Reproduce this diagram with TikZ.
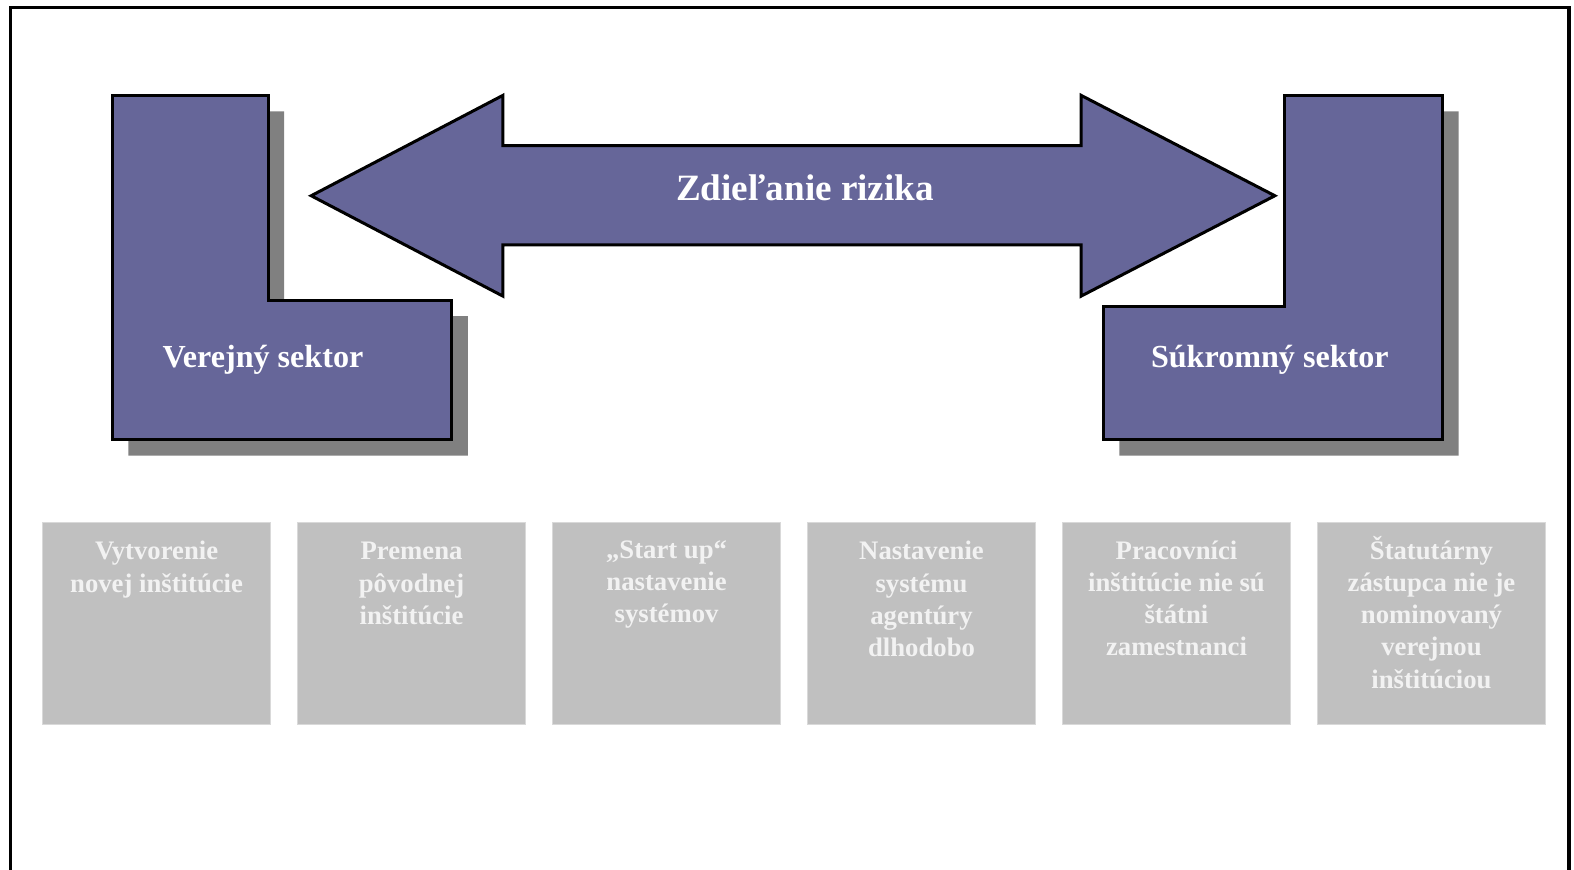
\documentclass[tikz,border=0pt]{standalone}
\usepackage{fontspec}
\setmainfont{Liberation Serif}
\usepackage{xcolor}

\definecolor{sektorfill}{RGB}{102,102,153}
\definecolor{tien}{RGB}{128,128,128}
\definecolor{boxfill}{RGB}{192,192,192}
\definecolor{boxtext}{RGB}{242,242,242}

\tikzset{
  shape outline/.style={draw=black, line width=1.5pt, line join=miter, fill=sektorfill},
  shadow shape/.style={draw opacity=0, fill=tien},
  sektortext/.style={text=white, font=\bfseries\fontsize{16}{19}\selectfont, inner sep=0pt},
  infobox/.style={draw=black!15, line width=0.5pt, fill=boxfill, anchor=north west,
    minimum width=113.5pt, minimum height=100.5pt, inner sep=0pt},
  infotext/.style={text=boxtext, font=\bfseries\fontsize{13.3}{16}\selectfont, align=center,
    anchor=north, inner sep=0pt}
}

\begin{document}
\begin{tikzpicture}[x=0.5pt, y=-0.5pt]

\useasboundingbox (0, 0) rectangle (1568, 866);
\clip (0, 0) rectangle (1568, 866); % limit img size

% page frame
\draw[line width=1.5pt] (10, 880) -- (10, 7) -- (1563, 7) -- (1563, 880);

% shadows
\draw[shadow shape] (128, 111) -- (283, 111) -- (283, 315) -- (466, 315)
	-- (466, 454) -- (128, 454) -- cycle;
\draw[shadow shape] (1296, 111) -- (1453, 111) -- (1453, 454) -- (1115, 454)
	-- (1115, 321) -- (1296, 321) -- cycle;

% public sector
\draw[shape outline] (112, 95) -- (267, 95) -- (267, 299) -- (450, 299)
	-- (450, 438) -- (112, 438) -- cycle;
\node[sektortext, anchor=base] (verejny) at (262, 366) {Verejný sektor};

% private sector
\draw[shape outline] (1280, 95) -- (1437, 95) -- (1437, 438) -- (1099, 438)
	-- (1099, 305) -- (1280, 305) -- cycle;
\node[sektortext, anchor=base] (sukromny) at (1265, 366) {Súkromný sektor};

% double arrow
\draw[shape outline] (310, 195) -- (501, 95) -- (501, 145) -- (1077, 145)
	-- (1077, 95) -- (1270, 195) -- (1077, 295) -- (1077, 244)
	-- (501, 244) -- (501, 295) -- cycle;
\node[sektortext, font=\bfseries\fontsize{18.5}{22}\selectfont] (riziko) at (802, 187) {Zdieľanie rizika};

% grey boxes
\node[infobox] (vytvorenie) at (42, 520) {};
\node[infobox] (premena) at (296, 520) {};
\node[infobox] (startup) at (550, 520) {};
\node[infobox] (nastavenie) at (804, 520) {};
\node[infobox] (pracovnici) at (1058, 520) {};
\node[infobox] (statutar) at (1312, 520) {};

\node[infotext] at ([yshift=-9.5pt]vytvorenie.north) {Vytvorenie\\novej inštitúcie};
\node[infotext] at ([yshift=-10pt]premena.north) {Premena\\pôvodnej\\inštitúcie};
\node[infotext] at ([yshift=-9pt]startup.north) {„Start up“\\nastavenie\\systémov};
\node[infotext] at ([yshift=-9.5pt]nastavenie.north) {Nastavenie\\systému\\agentúry\\dlhodobo};
\node[infotext] at ([yshift=-9pt]pracovnici.north) {Pracovníci\\inštitúcie nie sú\\štátni\\zamestnanci};
\node[infotext] at ([yshift=-7pt]statutar.north) {Štatutárny\\zástupca nie je\\nominovaný\\verejnou\\inštitúciou};

\end{tikzpicture}
\end{document}
